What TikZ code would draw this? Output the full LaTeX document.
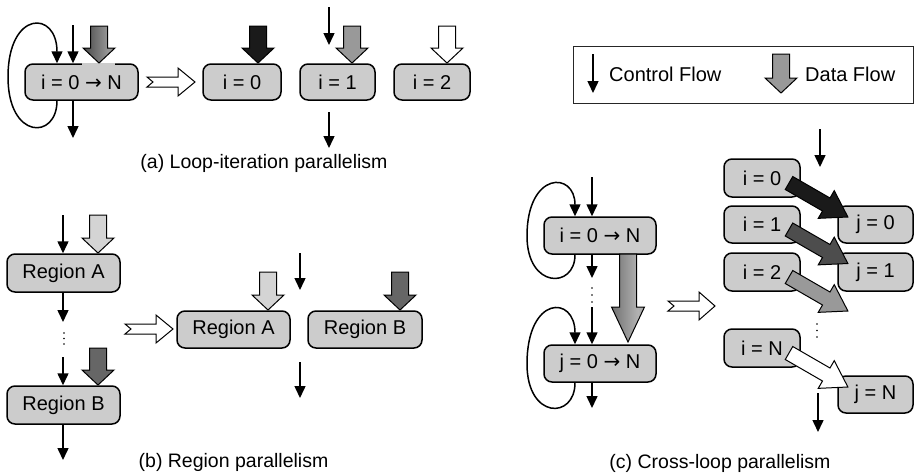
\documentclass[tikz,border=0pt]{standalone}
\usepackage{fontspec}
\setmainfont{Liberation Sans}
\newfontfamily\arrowfont{DejaVu Sans}
\usetikzlibrary{arrows.meta}
\definecolor{boxgray}{HTML}{CCCCCC}
\definecolor{dBlack}{HTML}{1A1A1A}
\definecolor{dDark}{HTML}{4D4D4D}
\definecolor{dMid}{HTML}{999999}
\definecolor{dLight}{HTML}{D4D4D4}
\definecolor{dRegB}{HTML}{666666}
\newcommand\toarrow{{\arrowfont →}}
\pgfdeclarehorizontalshading{gradA}{100bp}{color(0bp)=(black!92); color(65bp)=(black!40); color(100bp)=(black!60)}
\pgfdeclarehorizontalshading{gradC}{100bp}{color(0bp)=(black!72); color(65bp)=(black!30); color(100bp)=(black!55)}
\tikzset{
  bx/.style={draw, line width=1.5pt, fill=boxgray, rounded corners=8pt, inner sep=0pt,
             font=\fontsize{20}{24}\selectfont},
  captxt/.style={inner sep=0pt, font=\fontsize{19.5}{24}\selectfont},
  ctrl/.style={line width=1.5pt, -{Triangle[length=12pt,width=11pt]}},
  darrow/.style={draw, line width=1pt, line join=miter},
  dotmark/.style={fill=black, inner sep=0pt, minimum size=1.8pt, circle}
}
% vertical data arrow: cx, top, tip, style
\newcommand\dataarrow[4]{%
  \path[darrow,#4] (#1-8.5,#2) -- (#1+8.5,#2) -- (#1+8.5,#3-15) -- (#1+16,#3-15) -- (#1,#3)
    -- (#1-16,#3-15) -- (#1-8.5,#3-15) -- cycle;}
% general vertical data arrow: cx, top, tip, shaft half, head half, head length, style
\newcommand\vdataarrow[7]{%
  \path[darrow,#7] (#1-#4,#2) -- (#1+#4,#2) -- (#1+#4,#3-#6) -- (#1+#5,#3-#6) -- (#1,#3)
    -- (#1-#5,#3-#6) -- (#1-#4,#3-#6) -- cycle;}
% diagonal data arrow: tail x, tail y, style
\newcommand\diagarrow[3]{%
  \begin{scope}[shift={(#1,#2)}, rotate=-30]
    \path[darrow,#3] (0,-7.5) -- (43,-7.5) -- (43,-16) -- (68,0) -- (43,16) -- (43,7.5) -- (0,7.5) -- cycle;
  \end{scope}}
% hollow implication arrow: x0, x1, cy
\newcommand\hollowarrow[3]{%
  \draw[line width=1pt, fill=white, line join=miter] (#1,#3-5) -- (#1+31,#3-5) -- (#1+31,#3-14) -- (#2,#3)
    -- (#1+31,#3+14) -- (#1+31,#3+5) -- (#1,#3+5) -- (#1+6,#3) -- cycle;}
\begin{document}
\begin{tikzpicture}[x=1pt,y=-1pt]
\useasboundingbox (0,0) rectangle (915,474);

% ================= (a) =================
\node[bx, minimum width=113pt, minimum height=36pt] (aL) at (81.5,82) {i = 0 \toarrow{} N};
\node[bx, minimum width=78pt, minimum height=36pt] (a0) at (242,82) {i = 0};
\node[bx, minimum width=75pt, minimum height=36pt] (a1) at (337.5,82) {i = 1};
\node[bx, minimum width=76pt, minimum height=36pt] (a2) at (432,82) {i = 2};
\fill[black!20] (82,62.6) rectangle (115,65.4);

\coordinate (aLoop) at (57,0);
\draw[ctrl] (aL.south -| aLoop) .. controls (57,140) and (8,140) .. (8,77)
   .. controls (8,10) and (57,10) .. (aL.north -| aLoop);
\coordinate (aIn) at (73,25);
\draw[ctrl] (aIn) -- (aIn |- aL.north);
\coordinate (aOut) at (73,138);
\draw[ctrl] (aL.south -| aOut) -- (aOut);
\coordinate (a1In) at (329,7);
\coordinate (a1InE) at (329,45);
\draw[ctrl] (a1In) -- (a1InE);
\coordinate (a1Out) at (329,112);
\coordinate (a1OutE) at (329,148);
\draw[ctrl] (a1Out) -- (a1OutE);

\dataarrow{99}{26}{63}{shade, shading=gradA}
\dataarrow{258}{26}{63}{fill=dBlack}
\dataarrow{352}{26}{63}{fill=dMid}
\dataarrow{447}{26}{63}{fill=white}

\hollowarrow{147}{195}{82}
\node[captxt, anchor=base] (capA) at (264,168) {(a) Loop-iteration parallelism};

% ================= (b) =================
\node[bx, minimum width=113pt, minimum height=38pt] (bA) at (63.5,273) {Region A};
\node[bx, minimum width=113pt, minimum height=38pt] (bB) at (63.5,405) {Region B};
\node[bx, minimum width=113pt, minimum height=37pt] (bA2) at (233.5,329.5) {Region A};
\node[bx, minimum width=114pt, minimum height=37pt] (bB2) at (365,329.5) {Region B};

\coordinate (bIn) at (63,215);
\draw[ctrl] (bIn) -- (bIn |- bA.north);
\coordinate (bMid) at (63,322);
\draw[ctrl] (bA.south -| bMid) -- (bMid);
\node[dotmark] (bd1) at (64,333) {};
\node[dotmark] (bd2) at (64,338.5) {};
\node[dotmark] (bd3) at (64,344) {};
\coordinate (bIn2) at (63,357);
\draw[ctrl] (bIn2) -- (bIn2 |- bB.north);
\coordinate (bOut) at (63,460);
\draw[ctrl] (bB.south -| bOut) -- (bOut);
\coordinate (bRIn) at (300,253);
\coordinate (bRInE) at (300,290);
\draw[ctrl] (bRIn) -- (bRInE);
\coordinate (bROut) at (300,362);
\coordinate (bROutE) at (300,398);
\draw[ctrl] (bROut) -- (bROutE);

\dataarrow{98}{215}{253}{fill=dLight}
\dataarrow{98}{348}{385}{fill=dRegB}
\dataarrow{268}{272}{310}{fill=dLight}
\dataarrow{400}{272}{310}{fill=dRegB}

\hollowarrow{125}{173}{329}
\node[captxt, anchor=base] (capB) at (233.5,467) {(b) Region parallelism};

% ================= legend =================
\node[draw=black!85, line width=1pt, minimum width=340pt, minimum height=57pt, inner sep=0pt] (leg) at (743,74.5) {};
\coordinate (lgA) at (593,54);
\coordinate (lgB) at (593,93);
\draw[ctrl] (lgA) -- (lgB);
\dataarrow{781}{54}{93}{fill=dMid}
\node[anchor=base west, inner sep=0pt, font=\fontsize{20}{24}\selectfont] (lgC) at (609,81) {Control Flow};
\node[anchor=base west, inner sep=0pt, font=\fontsize{20}{24}\selectfont] (lgD) at (805,81) {Data Flow};

% ================= (c) left =================
\node[bx, minimum width=112pt, minimum height=37pt] (cI) at (600,235.5) {i = 0 \toarrow{} N};
\node[bx, minimum width=112pt, minimum height=37pt] (cJ) at (600,363.5) {j = 0 \toarrow{} N};

\coordinate (cLoop) at (575,0);
\draw[ctrl] (cI.south -| cLoop) .. controls (575,289) and (527,289) .. (527,236)
   .. controls (527,171) and (575,171) .. (cI.north -| cLoop);
\draw[ctrl] (cJ.south -| cLoop) .. controls (575,419.6) and (527,419.6) .. (527,364)
   .. controls (527,295) and (575,295) .. (cJ.north -| cLoop);
\coordinate (cIn) at (592,177);
\draw[ctrl] (cIn) -- (cIn |- cI.north);
\coordinate (cMid) at (592,278);
\draw[ctrl] (cI.south -| cMid) -- (cMid);
\node[dotmark] (cd1) at (592,288) {};
\node[dotmark] (cd2) at (592,295) {};
\node[dotmark] (cd3) at (592,302) {};
\coordinate (cIn2) at (592,307);
\draw[ctrl] (cIn2) -- (cIn2 |- cJ.north);
\coordinate (cOut) at (592,408);
\draw[ctrl] (cJ.south -| cOut) -- (cOut);

\vdataarrow{628}{254}{342}{8.5}{16.5}{35}{shade, shading=gradC}
\hollowarrow{668}{715}{306}

% ================= (c) right =================
\node[bx, minimum width=76pt, minimum height=38pt] (ci0) at (762,178) {i = 0};
\node[bx, minimum width=76pt, minimum height=37pt] (ci1) at (762,224.5) {i = 1};
\node[bx, minimum width=76pt, minimum height=38pt] (ci2) at (762,272) {i = 2};
\node[bx, minimum width=76pt, minimum height=38pt] (ciN) at (762,348) {i = N};
\node[bx, minimum width=75pt, minimum height=37pt] (cj0) at (875.5,224.5) {j = 0};
\node[bx, minimum width=75pt, minimum height=38pt] (cj1) at (875.5,272) {j = 1};
\node[bx, minimum width=75pt, minimum height=37pt] (cjN) at (875.5,394.5) {j = N};

\coordinate (crIn) at (820,129);
\coordinate (crInE) at (820,167);
\draw[ctrl] (crIn) -- (crInE);
\node[dotmark] (crd1) at (817,324) {};
\node[dotmark] (crd2) at (817,330.5) {};
\node[dotmark] (crd3) at (817,337) {};
\coordinate (crOut) at (818,393);
\coordinate (crOutE) at (818,432);
\draw[ctrl] (crOut) -- (crOutE);

\diagarrow{789}{183}{fill=dBlack}
\diagarrow{789}{229.5}{fill=dDark}
\diagarrow{789}{277}{fill=dMid}
\diagarrow{789}{353}{fill=white}

\node[captxt, anchor=base] (capC) at (720,468) {(c) Cross-loop parallelism};
\end{tikzpicture}
\end{document}
